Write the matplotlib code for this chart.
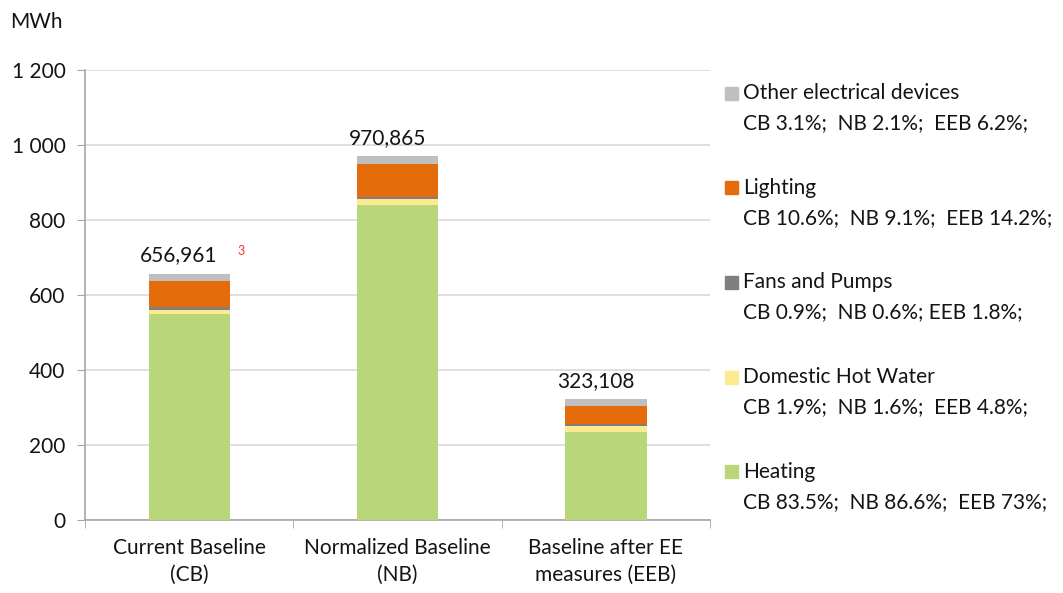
import numpy as np
import matplotlib.pyplot as plt
from matplotlib.patches import Rectangle
from matplotlib.ticker import FuncFormatter, FixedLocator

plt.rcParams['font.family'] = ['Lato', 'DejaVu Sans']

categories = ['Current Baseline\n(CB)', 'Normalized Baseline\n(NB)', 'Baseline after EE\nmeasures (EEB)']
totals = ['656,961', '970,865', '323,108']

# MWh per end use (bottom to top)
heating = [548.6, 840.8, 235.9]
hot_water = [12.5, 15.5, 15.5]
fans_pumps = [5.9, 5.8, 5.8]
lighting = [69.6, 88.3, 45.9]
other = [20.4, 20.4, 20.0]

series = [heating, hot_water, fans_pumps, lighting, other]
colors = ['#b9d77a', '#fde98f', '#7f7f7f', '#e46c0a', '#bfbfbf']

legend_names = ['Other electrical devices', 'Lighting', 'Fans and Pumps',
                'Domestic Hot Water', 'Heating']
legend_shares = ['CB 3.1%;  NB 2.1%;  EEB 6.2%;',
                 'CB 10.6%;  NB 9.1%;  EEB 14.2%;',
                 'CB 0.9%;  NB 0.6%; EEB 1.8%;',
                 'CB 1.9%;  NB 1.6%;  EEB 4.8%;',
                 'CB 83.5%;  NB 86.6%;  EEB 73%;']
legend_colors = ['#bfbfbf', '#e46c0a', '#7f7f7f', '#fde98f', '#b9d77a']

FS = 15
TXT = '#141414'

fig = plt.figure(figsize=(10.63, 5.93), dpi=100)
ax = fig.add_axes([0.08, 0.123, 0.588, 0.759])

x = np.arange(len(categories))
bottom = np.zeros(len(categories))
for vals, c in zip(series, colors):
    ax.bar(x, vals, 0.39, bottom=bottom, color=c, zorder=3)
    bottom += np.array(vals)

for xi, top, lab in zip(x, bottom, totals):
    ax.text(xi - 0.05, top + 22, lab, ha='center', va='bottom', fontsize=FS, color=TXT)
# footnote marker next to the first total
ax.annotate('3', (x[0], bottom[0]), xytext=(35, 12), textcoords='offset points',
            color='#ff3030', fontsize=9, va='bottom')

ax.set_xlim(-0.5, 2.5)
ax.set_ylim(0, 1200)
ax.yaxis.set_major_locator(FixedLocator(np.arange(0, 1201, 200)))
ax.yaxis.set_major_formatter(FuncFormatter(lambda v, p: f'{int(v):,}'.replace(',', ' ')))
ax.grid(axis='y', color='#d9d9d9', linewidth=1.2, zorder=0)

ax.set_xticks(x)
ax.set_xticklabels(categories, fontsize=FS, color=TXT, linespacing=1.45)
ax.set_xticks([-0.5, 0.5, 1.5, 2.5], minor=True)
ax.tick_params(axis='x', which='major', length=0, pad=13)
ax.tick_params(axis='x', which='minor', length=6, color='#a6a6a6', direction='out')
ax.tick_params(axis='y', length=6, color='#a6a6a6', labelsize=FS, labelcolor=TXT, pad=8)

for s in ['top', 'right']:
    ax.spines[s].set_visible(False)
for s in ['left', 'bottom']:
    ax.spines[s].set_color('#a6a6a6')
    ax.spines[s].set_linewidth(1.2)

fig.text(10 / 1063, 1 - 22 / 593, 'MWh', fontsize=FS, va='center', color=TXT)

# legend drawn by hand: square beside the name, shares on the next line
for i, (name, share, c) in enumerate(zip(legend_names, legend_shares, legend_colors)):
    y1 = 1 - (93 + i * 94.7) / 593
    y2 = 1 - (123 + i * 94.7) / 593
    fig.patches.append(Rectangle((725 / 1063, y1 - 6.5 / 593), 13 / 1063, 13 / 593,
                                 transform=fig.transFigure, color=c))
    fig.text(743 / 1063, y1, name, fontsize=FS, va='center', color=TXT)
    fig.text(743 / 1063, y2, share, fontsize=FS, va='center', color=TXT)

fig.savefig('out.png', dpi=100)
